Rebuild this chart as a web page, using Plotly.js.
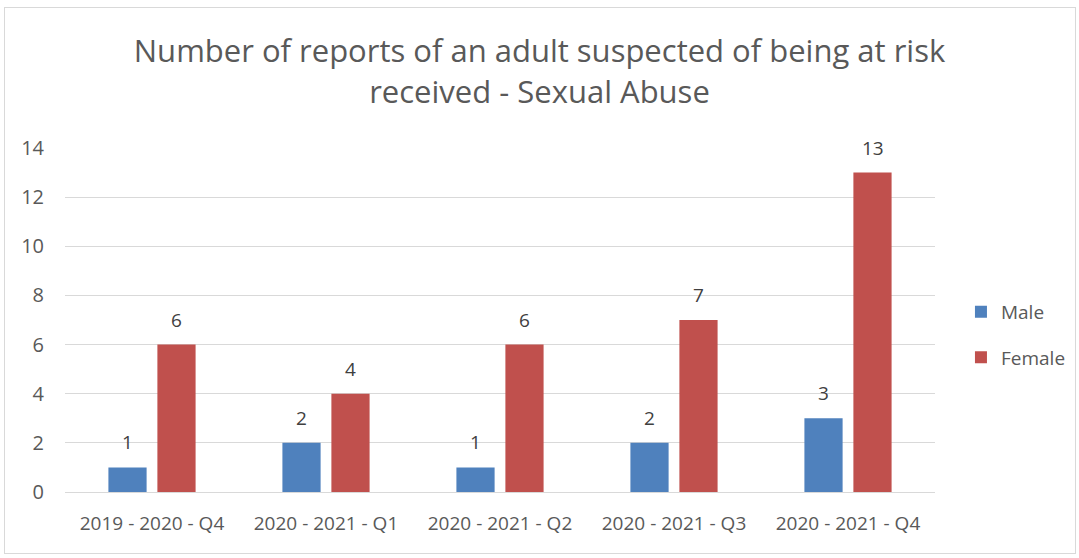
<!DOCTYPE html>
<html><head><meta charset="utf-8">
<script src="https://cdn.plot.ly/plotly-3.0.1.min.js"></script>
<style>html,body{margin:0;padding:0;background:#fff}#chart{width:1079px;height:558px}
#frame{position:absolute;left:4px;top:7px;width:1070px;height:545px;border:1px solid #d9d9d9;pointer-events:none}</style>
</head><body><div id="chart"></div><div id="frame"></div>
<script>
const categories = ["2019 - 2020 - Q4","2020 - 2021 - Q1","2020 - 2021 - Q2","2020 - 2021 - Q3","2020 - 2021 - Q4"];
const male = [1,2,1,2,3];
const female = [6,4,6,7,13];
const font = "Open Sans, Noto Sans, sans-serif";
const traces = [
 {type:'bar',name:'Male',x:categories,y:male,marker:{color:'#4f81bd'},legendgroup:'m'},
 {type:'bar',name:'Female',x:categories,y:female,marker:{color:'#c0504d'},legendgroup:'f'}
];
const labelAnn = (vals, shift) => vals.map((v,i)=>({xref:'x',yref:'y',x:categories[i],y:v,text:String(v),showarrow:false,
  xshift:shift,yshift:25,yanchor:'middle',font:{size:19,color:'#404040',family:font}}));
const layout = {
 width:1079,height:558,paper_bgcolor:'#fff',plot_bgcolor:'#fff',
 margin:{l:65,r:144,t:148,b:66},
 font:{family:font,color:'#595959'},
 title:{text:'Number of reports of an adult suspected of being at risk<br>received - Sexual Abuse',font:{size:31,color:'#595959',family:font},x:0.5,xanchor:'center',y:0.888,yanchor:'middle'},
 bargap:0.437,bargroupgap:0.22,
 xaxis:{tickfont:{size:19,color:'#595959'},showgrid:false,showline:true,linecolor:'#d9d9d9',ticks:'',ticklabelstandoff:14},
 yaxis:{range:[0,14],dtick:2,tickfont:{size:20,color:'#595959'},gridcolor:'#d9d9d9',zeroline:false,ticks:'',ticklabelstandoff:20},
 legend:{xref:'container',yref:'container',x:0.8906,xanchor:'left',y:0.4,yanchor:'middle',font:{size:19,color:'#595959'},traceorder:'grouped',tracegroupgap:18},
 annotations:[...labelAnn(male,-24.5),...labelAnn(female,24.5)],
 showlegend:true
};
Plotly.newPlot('chart',traces,layout,{displayModeBar:false});
</script></body></html>
